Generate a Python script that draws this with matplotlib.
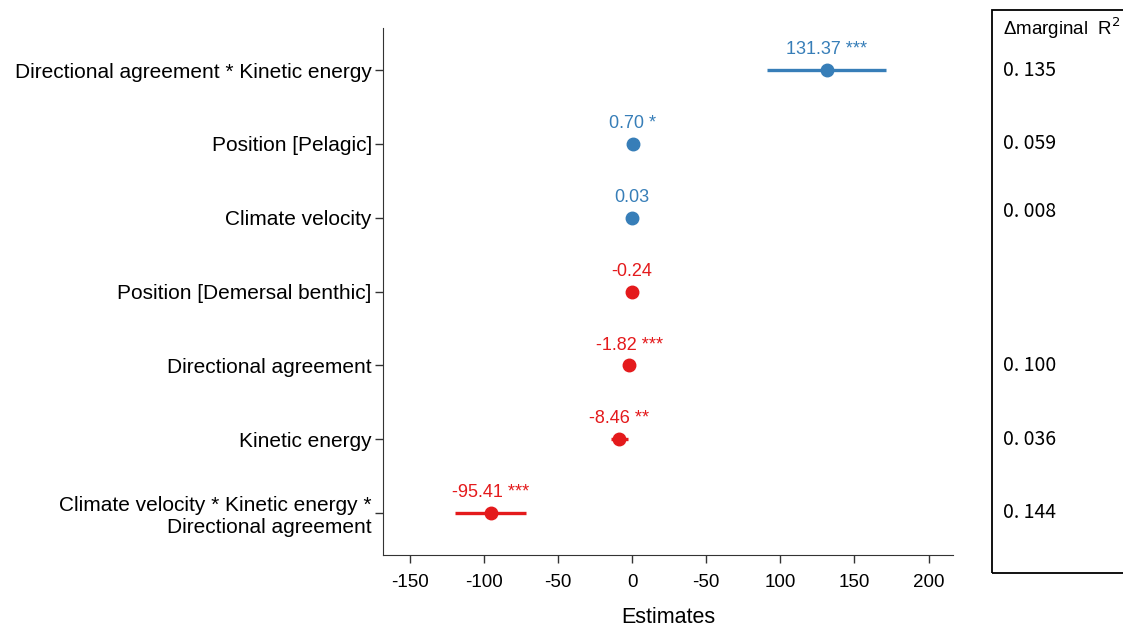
import matplotlib.pyplot as plt
from matplotlib.patches import Rectangle
from matplotlib.transforms import blended_transform_factory

plt.rcParams['font.family'] = ['Liberation Sans', 'DejaVu Sans']

# terms, top to bottom
terms = ['Directional agreement * Kinetic energy',
         'Position [Pelagic]',
         'Climate velocity',
         'Position [Demersal benthic]',
         'Directional agreement',
         'Kinetic energy',
         'Climate velocity * Kinetic energy *\nDirectional agreement']
estimates = [131.37, 0.70, 0.03, -0.24, -1.82, -8.46, -95.41]
ci_low = [91.0, 0.2, -0.3, -0.8, -2.6, -14.2, -119.4]
ci_high = [171.3, 1.2, 0.4, 0.3, -1.0, -2.6, -71.5]
stars = ['***', '*', '', '', '***', '**', '***']
r2 = ['0. 135', '0. 059', '0. 008', '', '0. 100', '0. 036', '0. 144']
r2_shift = [0, 0, 0.09, 0, 0, 0, 0]

xticks = [-150, -100, -50, 0, 50, 100, 150, 200]
xtick_labels = ['-150', '-100', '-50', '0', '-50', '100', '150', '200']

blue = '#377EB8'
red = '#E41A1C'

fig = plt.figure(figsize=(11.23, 6.27), dpi=100)
ax = fig.add_axes([0.341, 0.1148, 0.5076, 0.8405])

n = len(terms)
ys = list(range(n - 1, -1, -1))
for y, est, lo, hi, st in zip(ys, estimates, ci_low, ci_high, stars):
    c = blue if est > 0 else red
    ax.plot([lo, hi], [y, y], color=c, lw=2.4, solid_capstyle='butt')
    ax.plot(est, y, 'o', color=c, ms=9)
    ax.annotate(f'{est:.2f} {st}'.strip(), (est, y), xytext=(0, 8.5),
                textcoords='offset points', ha='center', va='bottom',
                color=c, fontsize=13)

ax.set_xlim(-168, 216.5)
ax.set_ylim(-0.57, n - 1 + 0.57)
ax.set_yticks(ys)
ax.set_yticklabels(terms, fontsize=15)
ax.set_xticks(xticks)
ax.set_xticklabels(xtick_labels, fontsize=13.5)
ax.set_xlabel('Estimates', fontsize=15.5, labelpad=11)
ax.spines['top'].set_visible(False)
ax.spines['right'].set_visible(False)
for s in ['left', 'bottom']:
    ax.spines[s].set_color('#333333')
ax.tick_params(axis='both', length=6, color='#333333', width=1)
ax.tick_params(axis='x', pad=8)
ax.tick_params(axis='y', pad=2)

# right-hand box with delta marginal R2
box = Rectangle((0.8833, 0.0861), 0.2, 0.898, transform=fig.transFigure,
                fill=False, edgecolor='black', lw=1.3, clip_on=False)
fig.patches.append(box)
fig.text(0.893, 0.955, '\u0394marginal  R$^2$', fontsize=13.5, va='center')
tr = blended_transform_factory(fig.transFigure, ax.transData)
for y, val, dy in zip(ys, r2, r2_shift):
    if val:
        fig.text(0.893, y + dy, val, transform=tr, fontsize=14, va='center',
                 family=['Noto Sans CJK JP', 'DejaVu Sans'])

fig.savefig('out.png', dpi=100)
